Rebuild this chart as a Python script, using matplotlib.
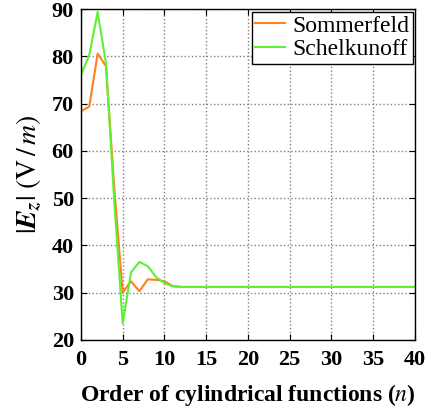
import numpy as np
import matplotlib
matplotlib.use("Agg")
import matplotlib.pyplot as plt

plt.rcParams['font.family'] = ['Liberation Serif', 'DejaVu Serif']
plt.rcParams['mathtext.fontset'] = 'stix'

# 数据：柱函数阶数 n 与 |Ez|
n = np.arange(0, 41)
sommerfeld_head = [68.4, 69.4, 80.6, 77.9, 52.0, 30.0, 32.4, 30.3, 32.8, 32.7, 32.4, 31.4]
schelkunoff_head = [76.0, 80.3, 89.4, 78.5, 49.0, 23.5, 34.3, 36.5, 35.6, 33.3, 32.0, 31.3]
tail_value = 31.2
sommerfeld = sommerfeld_head + [tail_value] * (len(n) - len(sommerfeld_head))
schelkunoff = schelkunoff_head + [tail_value] * (len(n) - len(schelkunoff_head))

x_ticks = [0, 5, 10, 15, 20, 25, 30, 35, 40]
y_ticks = [20, 30, 40, 50, 60, 70, 80, 90]

fig = plt.figure(figsize=(4.26, 4.17), dpi=100)
ax = fig.add_axes([0.190, 0.185, 0.784, 0.793])

ax.plot(n, sommerfeld, color='#FF8020', lw=1.5, label='Sommerfeld')
ax.plot(n, schelkunoff, color='#5EF034', lw=1.5, label='Schelkunoff')

ax.set_xlim(0, 40)
ax.set_ylim(20, 90)
ax.set_xticks(x_ticks)
ax.set_yticks(y_ticks)
ax.grid(True, linestyle=':', color='#808080', lw=1.0)
ax.tick_params(direction='in', top=True, right=True, length=4, labelsize=16)
ax.tick_params(axis='x', pad=7)
ax.tick_params(axis='y', pad=5)
for lab in ax.get_xticklabels() + ax.get_yticklabels():
    lab.set_fontweight('bold')
for sp in ax.spines.values():
    sp.set_linewidth(1.0)

ax.set_xlabel(r'Order of cylindrical functions ($\mathit{n}$)', fontsize=17, fontweight='bold', labelpad=9)
ax.set_ylabel(r'$|\mathbfit{E_z}|\ (\mathrm{V}\,/\,\mathit{m})$', fontsize=20, labelpad=5)

leg = ax.legend(loc='upper right', fontsize=17, frameon=True, fancybox=False,
                framealpha=1, edgecolor='black', borderpad=0.15, handlelength=1.25,
                handletextpad=0.3, labelspacing=0.1, borderaxespad=0.1)
leg.get_frame().set_linewidth(1.0)

fig.savefig('out.png', dpi=100)
